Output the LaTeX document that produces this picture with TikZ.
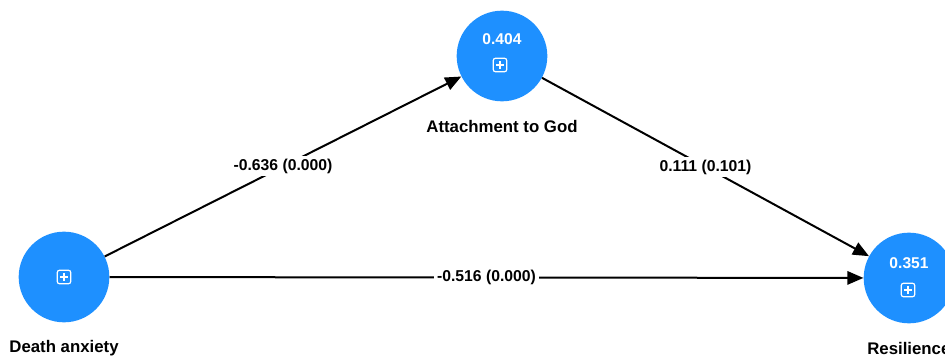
\documentclass[tikz,border=0pt]{standalone}
\usepackage{fontspec}
\setmainfont{Liberation Sans}
\usetikzlibrary{arrows.meta}
\definecolor{nodeblue}{HTML}{1E90FF}
\tikzset{
  construct/.style={circle, fill=nodeblue, minimum size=68pt, inner sep=0pt},
  lbl/.style={font=\bfseries\fontsize{12.6}{14}\selectfont, text=black},
  val/.style={font=\bfseries\fontsize{11.7}{13}\selectfont, text=white},
  path/.style={line width=1.5pt, -{Triangle[length=12pt,width=10pt]}},
  elbl/.style={fill=white, inner sep=2pt, font=\bfseries\fontsize{11.8}{13}\selectfont},
  plusicon/.pic={
    \draw[white, line width=0.9pt, rounded corners=1.5pt] (-5pt,-5pt) rectangle (5pt,5pt);
    \draw[white, line width=0.9pt] (-3pt,0) -- (3pt,0) (0,-3pt) -- (0,3pt);
  }
}
\begin{document}
\begin{tikzpicture}[x=0.75pt,y=-0.75pt]
\useasboundingbox (0,0) rectangle (945,363);
\node[construct] (da) at (64,277) {};
\node[construct] (ag) at (502,56) {};
\node[construct] (re) at (909,278) {};
\node[val] (agv) at (502,39) {0.404};
\node[val] (rev) at (909,263) {0.351};
\pic at (500,65) {plusicon};
\pic at (64,277) {plusicon};
\pic at (908,290) {plusicon};
\node[lbl] (dal) at (64,348) {Death anxiety};
\node[lbl] (agl) at (502,126) {Attachment to God};
\node[lbl, anchor=west, inner sep=0pt] (rel) at (867,348) {Resilience};
\draw[path] (da) -- node[elbl] {-0.636 (0.000)} (ag);
\draw[path] (ag) -- node[elbl] {0.111 (0.101)} (re);
\draw[path] (da) -- node[elbl] {-0.516 (0.000)} (re);
\end{tikzpicture}
\end{document}
